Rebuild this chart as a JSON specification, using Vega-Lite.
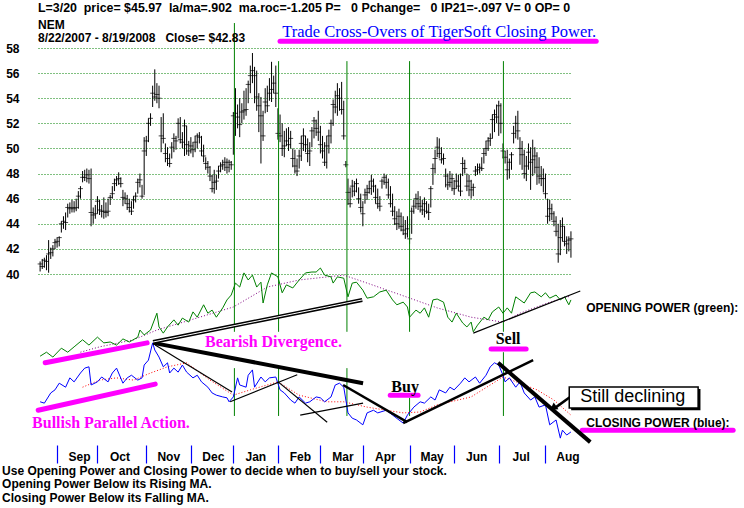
{
"$schema": "https://vega.github.io/schema/vega-lite/v6.json",
"width": 534, "height": 445,
"padding": {"left": 38, "top": 0, "right": 172, "bottom": 63},
"autosize": {"type": "none"},
"background": "white",
"config": {"view": {"stroke": null}, "axisX": {"grid": false, "title": null, "domain": false}},
"datasets": {
"bars": [
{"i":0,"h":41.0,"l":40.2,"c":40.8},{"i":1,"h":41.2,"l":40.4,"c":40.6},{"i":2,"h":41.3,"l":40.5,"c":41.1},{"i":3,"h":41.5,"l":40.3,"c":41.0},{"i":4,"h":42.7,"l":40.1,"c":41.6},{"i":5,"h":42.1,"l":41.2,"c":41.7},{"i":6,"h":42.3,"l":41.4,"c":42.0},{"i":7,"h":42.8,"l":42.0,"c":42.5},{"i":8,"h":42.9,"l":42.1,"c":42.6},{"i":9,"h":43.0,"l":42.2,"c":42.9},
{"i":10,"h":44.2,"l":43.3,"c":44.0},{"i":11,"h":44.6,"l":43.6,"c":44.2},{"i":12,"h":44.9,"l":43.5,"c":44.1},{"i":13,"h":45.6,"l":44.5,"c":45.3},{"i":14,"h":45.7,"l":44.8,"c":45.2},{"i":15,"h":45.9,"l":44.9,"c":45.3},{"i":16,"h":45.8,"l":44.9,"c":45.2},{"i":17,"h":46.0,"l":45.0,"c":45.3},{"i":18,"h":46.6,"l":45.2,"c":46.2},{"i":19,"h":47.0,"l":46.0,"c":46.8},
{"i":20,"h":48.2,"l":47.3,"c":47.7},{"i":21,"h":48.3,"l":47.4,"c":47.7},{"i":22,"h":48.4,"l":47.3,"c":47.9},{"i":23,"h":48.3,"l":47.2,"c":47.6},{"i":24,"h":48.4,"l":43.8,"c":44.9},{"i":25,"h":45.3,"l":44.0,"c":44.7},{"i":26,"h":45.5,"l":44.4,"c":44.8},{"i":27,"h":46.2,"l":44.8,"c":45.8},{"i":28,"h":45.9,"l":44.7,"c":45.1},{"i":29,"h":45.5,"l":44.5,"c":45.0},
{"i":30,"h":46.1,"l":44.4,"c":45.0},{"i":31,"h":45.7,"l":44.5,"c":44.9},{"i":32,"h":46.0,"l":44.6,"c":45.0},{"i":33,"h":46.3,"l":45.5,"c":46.1},{"i":34,"h":47.0,"l":46.0,"c":46.4},{"i":35,"h":47.6,"l":46.6,"c":47.2},{"i":36,"h":47.8,"l":47.0,"c":47.5},{"i":37,"h":48.1,"l":47.1,"c":47.6},{"i":38,"h":47.7,"l":46.9,"c":47.2},{"i":39,"h":46.7,"l":45.4,"c":46.1},
{"i":40,"h":46.5,"l":45.6,"c":46.0},{"i":41,"h":46.3,"l":45.1,"c":45.6},{"i":42,"h":46.0,"l":44.9,"c":45.3},{"i":43,"h":45.8,"l":44.7,"c":45.0},{"i":44,"h":46.2,"l":45.2,"c":45.9},{"i":45,"h":46.5,"l":45.7,"c":46.2},{"i":46,"h":47.6,"l":46.4,"c":47.3},{"i":47,"h":48.0,"l":46.9,"c":47.5},{"i":48,"h":47.1,"l":46.0,"c":46.2},{"i":49,"h":50.9,"l":46.3,"c":49.8},
{"i":50,"h":51.0,"l":49.4,"c":50.6},{"i":51,"h":52.4,"l":50.5,"c":52.0},{"i":52,"h":52.8,"l":51.8,"c":52.4},{"i":53,"h":55.0,"l":53.3,"c":54.4},{"i":54,"h":56.3,"l":53.8,"c":54.1},{"i":55,"h":55.2,"l":53.6,"c":54.3},{"i":56,"h":55.0,"l":53.2,"c":54.0},{"i":57,"h":52.5,"l":49.7,"c":51.0},{"i":58,"h":52.8,"l":50.4,"c":50.8},{"i":59,"h":50.4,"l":48.9,"c":49.6},
{"i":60,"h":50.1,"l":48.6,"c":49.2},{"i":61,"h":49.6,"l":48.5,"c":48.8},{"i":62,"h":50.5,"l":49.2,"c":50.1},{"i":63,"h":51.2,"l":49.7,"c":50.8},{"i":64,"h":51.0,"l":49.9,"c":50.6},{"i":65,"h":52.4,"l":50.8,"c":52.0},{"i":66,"h":52.5,"l":50.4,"c":50.7},{"i":67,"h":51.3,"l":50.0,"c":50.5},{"i":68,"h":52.3,"l":49.4,"c":51.8},{"i":69,"h":51.8,"l":49.5,"c":50.3},
{"i":70,"h":50.6,"l":49.4,"c":49.8},{"i":71,"h":50.9,"l":49.6,"c":50.2},{"i":72,"h":50.5,"l":49.3,"c":49.9},{"i":73,"h":51.0,"l":49.7,"c":50.5},{"i":74,"h":51.2,"l":50.0,"c":51.0},{"i":75,"h":51.3,"l":50.4,"c":50.9},{"i":76,"h":51.0,"l":49.4,"c":49.8},{"i":77,"h":50.3,"l":48.9,"c":49.4},{"i":78,"h":49.3,"l":48.3,"c":48.8},{"i":79,"h":49.0,"l":48.0,"c":48.5},
{"i":80,"h":48.6,"l":47.4,"c":47.8},{"i":81,"h":47.9,"l":46.5,"c":46.8},{"i":82,"h":48.3,"l":46.4,"c":47.3},{"i":83,"h":47.9,"l":46.7,"c":47.4},{"i":84,"h":48.6,"l":47.6,"c":48.2},{"i":85,"h":48.9,"l":48.1,"c":48.6},{"i":86,"h":49.1,"l":48.3,"c":48.7},{"i":87,"h":49.3,"l":48.2,"c":48.9},{"i":88,"h":49.2,"l":48.0,"c":48.5},{"i":89,"h":49.1,"l":48.1,"c":48.9},
{"i":90,"h":49.0,"l":48.3,"c":48.7},{"i":91,"h":52.9,"l":49.5,"c":52.6},{"i":92,"h":54.8,"l":51.0,"c":52.8},{"i":93,"h":53.5,"l":51.6,"c":52.5},{"i":94,"h":54.0,"l":50.9,"c":51.9},{"i":95,"h":53.6,"l":52.0,"c":52.9},{"i":96,"h":54.6,"l":52.3,"c":53.0},{"i":97,"h":54.8,"l":52.6,"c":53.1},{"i":98,"h":55.4,"l":53.6,"c":55.1},{"i":99,"h":56.6,"l":54.4,"c":55.8},
{"i":100,"h":57.6,"l":55.2,"c":56.2},{"i":101,"h":56.5,"l":53.6,"c":55.8},{"i":102,"h":56.2,"l":53.0,"c":54.1},{"i":103,"h":54.4,"l":51.3,"c":53.4},{"i":104,"h":54.1,"l":48.8,"c":52.6},{"i":105,"h":53.0,"l":50.6,"c":51.0},{"i":106,"h":54.8,"l":52.8,"c":53.7},{"i":107,"h":55.0,"l":52.9,"c":53.4},{"i":108,"h":55.6,"l":53.8,"c":54.4},{"i":109,"h":56.9,"l":53.7,"c":54.7},
{"i":110,"h":55.8,"l":54.4,"c":55.2},{"i":111,"h":56.6,"l":53.3,"c":54.4},{"i":112,"h":53.2,"l":50.7,"c":51.2},{"i":113,"h":52.7,"l":50.5,"c":51.0},{"i":114,"h":52.0,"l":49.4,"c":50.0},{"i":115,"h":51.4,"l":49.3,"c":50.2},{"i":116,"h":51.6,"l":50.2,"c":50.6},{"i":117,"h":51.7,"l":49.8,"c":50.3},{"i":118,"h":51.4,"l":50.0,"c":50.8},{"i":119,"h":50.0,"l":48.5,"c":49.2},
{"i":120,"h":49.9,"l":48.0,"c":48.6},{"i":121,"h":49.2,"l":47.8,"c":48.2},{"i":122,"h":49.9,"l":48.4,"c":49.4},{"i":123,"h":51.0,"l":49.0,"c":50.4},{"i":124,"h":51.6,"l":49.8,"c":51.0},{"i":125,"h":51.0,"l":49.7,"c":50.3},{"i":126,"h":50.8,"l":48.9,"c":49.6},{"i":127,"h":50.5,"l":48.6,"c":49.8},{"i":128,"h":51.7,"l":50.1,"c":51.4},{"i":129,"h":52.5,"l":50.8,"c":52.2},
{"i":130,"h":52.3,"l":51.0,"c":51.6},{"i":131,"h":53.0,"l":50.6,"c":51.3},{"i":132,"h":51.8,"l":49.6,"c":50.3},{"i":133,"h":51.0,"l":49.2,"c":49.8},{"i":134,"h":50.5,"l":48.6,"c":48.9},{"i":135,"h":51.0,"l":48.4,"c":50.2},{"i":136,"h":51.5,"l":49.6,"c":51.0},{"i":137,"h":52.3,"l":50.4,"c":52.0},{"i":138,"h":53.9,"l":51.8,"c":53.5},{"i":139,"h":54.6,"l":52.8,"c":53.3},
{"i":140,"h":55.2,"l":52.6,"c":54.2},{"i":141,"h":54.8,"l":53.0,"c":54.0},{"i":142,"h":55.3,"l":52.7,"c":53.1},{"i":143,"h":53.8,"l":50.7,"c":51.0},{"i":144,"h":49.0,"l":48.5,"c":48.7},{"i":145,"h":47.6,"l":45.5,"c":46.5},{"i":146,"h":46.9,"l":45.3,"c":45.6},{"i":147,"h":47.5,"l":46.1,"c":47.0},{"i":148,"h":47.4,"l":46.2,"c":46.6},{"i":149,"h":47.6,"l":46.5,"c":47.2},
{"i":150,"h":46.9,"l":45.6,"c":46.0},{"i":151,"h":46.4,"l":44.9,"c":45.3},{"i":152,"h":45.8,"l":43.8,"c":44.8},{"i":153,"h":46.8,"l":45.6,"c":46.3},{"i":154,"h":47.1,"l":45.9,"c":46.5},{"i":155,"h":47.4,"l":46.4,"c":46.8},{"i":156,"h":47.9,"l":46.3,"c":47.4},{"i":157,"h":47.6,"l":46.5,"c":47.0},{"i":158,"h":47.1,"l":45.6,"c":46.1},{"i":159,"h":46.8,"l":45.2,"c":45.6},
{"i":160,"h":46.2,"l":45.0,"c":45.4},{"i":161,"h":47.6,"l":46.8,"c":47.4},{"i":162,"h":48.0,"l":47.1,"c":47.7},{"i":163,"h":47.9,"l":46.8,"c":47.3},{"i":164,"h":47.6,"l":46.0,"c":46.3},{"i":165,"h":47.0,"l":45.3,"c":45.6},{"i":166,"h":46.4,"l":44.6,"c":45.0},{"i":167,"h":45.4,"l":43.9,"c":44.4},{"i":168,"h":45.0,"l":43.5,"c":44.0},{"i":169,"h":45.2,"l":43.6,"c":44.6},
{"i":170,"h":44.9,"l":43.4,"c":43.8},{"i":171,"h":44.6,"l":43.1,"c":43.5},{"i":172,"h":44.3,"l":42.8,"c":43.2},{"i":173,"h":44.6,"l":42.9,"c":43.6},{"i":174,"h":44.4,"l":42.4,"c":42.8},{"i":175,"h":45.3,"l":43.2,"c":45.0},{"i":176,"h":45.9,"l":44.8,"c":45.4},{"i":177,"h":46.4,"l":45.2,"c":46.0},{"i":178,"h":46.6,"l":45.1,"c":45.6},{"i":179,"h":46.2,"l":44.9,"c":45.4},
{"i":180,"h":45.9,"l":44.7,"c":45.1},{"i":181,"h":46.1,"l":44.5,"c":45.6},{"i":182,"h":45.8,"l":44.8,"c":45.0},{"i":183,"h":45.6,"l":44.3,"c":44.9},{"i":184,"h":47.0,"l":45.3,"c":46.8},{"i":185,"h":48.8,"l":47.1,"c":48.4},{"i":186,"h":49.9,"l":48.0,"c":49.2},{"i":187,"h":50.9,"l":49.3,"c":50.1},{"i":188,"h":50.8,"l":49.2,"c":49.6},{"i":189,"h":50.1,"l":48.8,"c":49.1},
{"i":190,"h":49.6,"l":48.7,"c":49.2},{"i":191,"h":48.4,"l":46.9,"c":47.8},{"i":192,"h":48.0,"l":46.7,"c":47.1},{"i":193,"h":48.2,"l":46.9,"c":47.3},{"i":194,"h":48.0,"l":46.6,"c":47.6},{"i":195,"h":47.5,"l":46.3,"c":46.8},{"i":196,"h":48.0,"l":46.8,"c":47.4},{"i":197,"h":47.9,"l":46.6,"c":47.0},{"i":198,"h":48.0,"l":46.2,"c":46.6},{"i":199,"h":49.3,"l":47.8,"c":48.8},
{"i":200,"h":49.1,"l":48.0,"c":48.4},{"i":201,"h":48.0,"l":46.6,"c":47.0},{"i":202,"h":47.9,"l":46.2,"c":47.4},{"i":203,"h":47.5,"l":46.0,"c":46.7},{"i":204,"h":47.2,"l":46.2,"c":46.9},{"i":205,"h":48.6,"l":47.8,"c":48.2},{"i":206,"h":48.8,"l":47.9,"c":48.3},{"i":207,"h":48.8,"l":48.0,"c":48.5},{"i":208,"h":49.3,"l":48.2,"c":48.4},{"i":209,"h":50.0,"l":48.8,"c":49.6},
{"i":210,"h":50.6,"l":49.4,"c":50.0},{"i":211,"h":50.9,"l":49.8,"c":50.6},{"i":212,"h":51.2,"l":50.2,"c":50.8},{"i":213,"h":52.7,"l":50.8,"c":52.3},{"i":214,"h":53.1,"l":51.3,"c":52.7},{"i":215,"h":53.5,"l":52.0,"c":52.5},{"i":216,"h":53.8,"l":51.0,"c":53.4},{"i":217,"h":53.6,"l":51.2,"c":52.0},{"i":218,"h":50.4,"l":49.2,"c":49.8},{"i":219,"h":49.8,"l":48.8,"c":49.3},
{"i":220,"h":49.9,"l":47.5,"c":48.3},{"i":221,"h":49.2,"l":47.6,"c":48.9},{"i":222,"h":49.7,"l":48.3,"c":49.5},{"i":223,"h":51.8,"l":50.4,"c":51.2},{"i":224,"h":52.6,"l":50.8,"c":52.0},{"i":225,"h":53.0,"l":50.7,"c":51.4},{"i":226,"h":50.9,"l":48.7,"c":50.0},{"i":227,"h":50.6,"l":48.3,"c":49.5},{"i":228,"h":49.9,"l":47.6,"c":48.0},{"i":229,"h":49.4,"l":47.4,"c":48.6},
{"i":230,"h":50.4,"l":48.3,"c":49.7},{"i":231,"h":50.1,"l":46.7,"c":48.9},{"i":232,"h":50.7,"l":47.8,"c":49.1},{"i":233,"h":50.1,"l":48.0,"c":49.4},{"i":234,"h":49.7,"l":47.1,"c":48.5},{"i":235,"h":49.3,"l":47.2,"c":47.8},{"i":236,"h":48.6,"l":47.0,"c":47.6},{"i":237,"h":48.4,"l":46.5,"c":47.6},{"i":238,"h":48.0,"l":46.0,"c":46.4},{"i":239,"h":46.0,"l":44.0,"c":44.6},
{"i":240,"h":45.9,"l":44.2,"c":45.2},{"i":241,"h":45.6,"l":44.3,"c":44.8},{"i":242,"h":45.0,"l":43.8,"c":44.2},{"i":243,"h":44.6,"l":43.0,"c":43.4},{"i":244,"h":44.0,"l":40.9,"c":41.6},{"i":245,"h":44.3,"l":41.5,"c":42.9},{"i":246,"h":44.5,"l":42.6,"c":43.8},{"i":247,"h":43.8,"l":42.2,"c":42.6},{"i":248,"h":43.0,"l":41.6,"c":42.4},{"i":249,"h":43.0,"l":41.8,"c":42.7},
{"i":250,"h":43.4,"l":41.3,"c":42.8}
],
"op": [
{"i":0,"v":19.6},{"i":3,"v":20.5},{"i":6,"v":19.4},{"i":10,"v":21.4},{"i":13,"v":20.5},{"i":16,"v":21.7},{"i":20,"v":23.3},{"i":23,"v":22.1},{"i":27,"v":23.9},{"i":30,"v":22.6},{"i":33,"v":22.8},{"i":36,"v":22.1},{"i":39,"v":23.5},{"i":42,"v":22.8},{"i":46,"v":23.9},{"i":47,"v":25.5},{"i":49,"v":24.4},{"i":52,"v":25.5},{"i":55,"v":29.3},{"i":56,"v":26.2},{"i":58,"v":24.8},{"i":60,"v":26.2},{"i":63,"v":27.8},{"i":65,"v":26.6},{"i":67,"v":28.2},{"i":70,"v":27.3},{"i":72,"v":29.6},{"i":74,"v":28.4},{"i":77,"v":31.2},{"i":79,"v":29.3},{"i":81,"v":30.0},{"i":83,"v":28.4},{"i":86,"v":30.5},{"i":88,"v":32.3},{"i":90,"v":33.4},{"i":92,"v":36.1},{"i":94,"v":35.2},{"i":96,"v":38.4},{"i":98,"v":36.8},{"i":100,"v":37.9},{"i":102,"v":35.2},{"i":104,"v":36.3},{"i":105,"v":31.6},{"i":107,"v":35.7},{"i":109,"v":38.4},{"i":112,"v":37.5},{"i":114,"v":33.9},{"i":116,"v":35.7},{"i":119,"v":35.0},{"i":122,"v":36.8},{"i":125,"v":38.4},{"i":128,"v":38.6},{"i":130,"v":38.6},{"i":132,"v":39.5},{"i":134,"v":37.9},{"i":137,"v":37.5},{"i":138,"v":36.1},{"i":140,"v":37.5},{"i":143,"v":37.2},{"i":145,"v":33.0},{"i":147,"v":36.1},{"i":149,"v":36.3},{"i":152,"v":34.5},{"i":154,"v":32.7},{"i":157,"v":33.0},{"i":160,"v":34.1},{"i":163,"v":34.5},{"i":166,"v":32.3},{"i":168,"v":31.2},{"i":171,"v":31.8},{"i":173,"v":30.7},{"i":174,"v":28.4},{"i":177,"v":30.0},{"i":179,"v":29.3},{"i":181,"v":30.5},{"i":183,"v":28.4},{"i":185,"v":32.3},{"i":187,"v":32.5},{"i":190,"v":31.8},{"i":192,"v":28.4},{"i":194,"v":27.3},{"i":196,"v":29.3},{"i":199,"v":27.1},{"i":201,"v":26.2},{"i":203,"v":27.3},{"i":204,"v":25.1},{"i":206,"v":26.6},{"i":209,"v":28.4},{"i":211,"v":27.8},{"i":213,"v":29.6},{"i":216,"v":30.7},{"i":218,"v":29.3},{"i":220,"v":30.5},{"i":222,"v":29.3},{"i":224,"v":33.0},{"i":226,"v":32.3},{"i":228,"v":31.6},{"i":231,"v":33.9},{"i":233,"v":34.1},{"i":236,"v":33.0},{"i":238,"v":33.9},{"i":240,"v":32.7},{"i":243,"v":33.4},{"i":245,"v":32.3},{"i":247,"v":33.0},{"i":249,"v":31.2},{"i":250,"v":32.3}
],
"opma": [
{"i":19,"v":20.5},{"i":28,"v":21.7},{"i":44,"v":23.3},{"i":55,"v":25.5},{"i":71,"v":27.8},{"i":91,"v":30.7},{"i":107,"v":35.2},{"i":122,"v":36.8},{"i":143,"v":37.9},{"i":154,"v":36.1},{"i":170,"v":33.4},{"i":187,"v":30.5},{"i":203,"v":28.4},{"i":211,"v":27.8},{"i":218,"v":27.3},{"i":226,"v":29.3},{"i":239,"v":31.6},{"i":250,"v":33.2}
],
"cp": [
{"i":0,"v":9.3},{"i":2,"v":9.0},{"i":5,"v":11.3},{"i":7,"v":12.0},{"i":9,"v":13.5},{"i":12,"v":12.6},{"i":14,"v":14.7},{"i":16,"v":13.8},{"i":19,"v":15.8},{"i":21,"v":16.9},{"i":23,"v":17.2},{"i":24,"v":13.1},{"i":27,"v":13.8},{"i":29,"v":14.9},{"i":32,"v":13.8},{"i":34,"v":15.8},{"i":36,"v":16.9},{"i":39,"v":13.5},{"i":41,"v":14.7},{"i":43,"v":15.3},{"i":46,"v":14.2},{"i":48,"v":14.7},{"i":49,"v":17.6},{"i":51,"v":18.7},{"i":53,"v":22.6},{"i":54,"v":21.0},{"i":56,"v":19.4},{"i":58,"v":17.2},{"i":60,"v":18.1},{"i":61,"v":15.8},{"i":63,"v":16.9},{"i":65,"v":16.0},{"i":67,"v":17.6},{"i":69,"v":16.0},{"i":72,"v":14.7},{"i":74,"v":15.3},{"i":76,"v":13.8},{"i":79,"v":12.6},{"i":81,"v":11.3},{"i":83,"v":10.8},{"i":86,"v":10.4},{"i":88,"v":10.2},{"i":89,"v":9.3},{"i":91,"v":10.4},{"i":93,"v":14.7},{"i":94,"v":13.1},{"i":97,"v":12.6},{"i":98,"v":15.3},{"i":100,"v":16.5},{"i":101,"v":12.6},{"i":104,"v":14.9},{"i":106,"v":13.8},{"i":108,"v":14.7},{"i":111,"v":14.9},{"i":113,"v":12.0},{"i":115,"v":11.3},{"i":118,"v":9.7},{"i":120,"v":9.0},{"i":122,"v":10.4},{"i":125,"v":9.0},{"i":127,"v":9.3},{"i":130,"v":10.4},{"i":132,"v":10.2},{"i":134,"v":9.3},{"i":137,"v":10.4},{"i":139,"v":13.1},{"i":141,"v":13.5},{"i":143,"v":12.6},{"i":145,"v":6.8},{"i":147,"v":5.6},{"i":149,"v":5.2},{"i":152,"v":4.1},{"i":154,"v":6.8},{"i":157,"v":7.4},{"i":159,"v":6.8},{"i":163,"v":7.4},{"i":166,"v":6.3},{"i":169,"v":5.2},{"i":171,"v":4.5},{"i":173,"v":6.3},{"i":176,"v":8.1},{"i":179,"v":9.3},{"i":181,"v":9.0},{"i":184,"v":10.4},{"i":186,"v":9.7},{"i":188,"v":12.0},{"i":191,"v":11.3},{"i":193,"v":12.6},{"i":195,"v":12.0},{"i":198,"v":13.5},{"i":200,"v":14.7},{"i":202,"v":13.8},{"i":205,"v":14.9},{"i":207,"v":13.5},{"i":210,"v":15.3},{"i":212,"v":17.2},{"i":214,"v":18.1},{"i":216,"v":17.6},{"i":218,"v":15.3},{"i":219,"v":13.8},{"i":221,"v":14.7},{"i":224,"v":12.6},{"i":226,"v":13.8},{"i":228,"v":11.3},{"i":231,"v":9.7},{"i":233,"v":10.4},{"i":235,"v":8.1},{"i":238,"v":8.6},{"i":240,"v":4.1},{"i":243,"v":5.2},{"i":245,"v":1.1},{"i":246,"v":2.9},{"i":248,"v":1.8},{"i":250,"v":2.5}
],
"cpma": [
{"i":20,"v":12.6},{"i":28,"v":14.2},{"i":36,"v":14.7},{"i":44,"v":14.2},{"i":52,"v":15.8},{"i":60,"v":17.2},{"i":69,"v":18.1},{"i":80,"v":14.2},{"i":91,"v":10.8},{"i":99,"v":12.0},{"i":112,"v":13.8},{"i":122,"v":10.8},{"i":135,"v":9.3},{"i":143,"v":9.3},{"i":154,"v":8.1},{"i":163,"v":7.4},{"i":171,"v":6.8},{"i":179,"v":7.0},{"i":187,"v":8.6},{"i":203,"v":10.4},{"i":218,"v":14.9},{"i":226,"v":13.5},{"i":234,"v":12.0},{"i":242,"v":9.7},{"i":250,"v":6.3}
],
"vlines": [
{"i":91.5,"v1":94.8,"v2":25.1},{"i":91.5,"v1":16.9,"v2":6.1},
{"i":112.3,"v1":86.2,"v2":25.1},{"i":112.3,"v1":16.9,"v2":6.1},
{"i":144.5,"v1":86.2,"v2":25.1},{"i":144.5,"v1":16.9,"v2":6.1},
{"i":174,"v1":86.2,"v2":25.1},{"i":174,"v1":10.2,"v2":6.1},
{"i":218.2,"v1":86.2,"v2":25.1},{"i":218.2,"v1":20.5,"v2":6.1}
],
"magenta": [
{"s":"m1","i":2.4,"v":18.1},{"s":"m1","i":50.4,"v":22.6},
{"s":"m2","i":-0.9,"v":7.4},{"s":"m2","i":54.2,"v":13.3},
{"s":"title","i":113.0,"v":90.7},{"s":"title","i":261.9,"v":90.7},
{"s":"buy","i":164.9,"v":10.8},{"s":"buy","i":178.0,"v":10.8},
{"s":"sell","i":212.4,"v":21.2},{"s":"sell","i":228.9,"v":21.2},
{"s":"cp","i":255.3,"v":2.9},{"s":"cp","i":326.4,"v":2.9}
],
"thick": [
{"s":"div1","i":53.2,"v":22.8},{"s":"div1","i":151.7,"v":32.3},
{"s":"div2","i":53.2,"v":22.6},{"s":"div2","i":152.1,"v":13.5},
{"s":"down","i":215.7,"v":18.1},{"s":"down","i":259.1,"v":0.2}
],
"medium": [
{"s":"a","i":142.7,"v":13.1},{"s":"a","i":172.9,"v":4.7},
{"s":"b","i":171.0,"v":4.5},{"s":"b","i":232.2,"v":18.7},
{"s":"arrow","i":249.6,"v":10.4},{"s":"arrow","i":243.0,"v":8.1}
],
"thin": [
{"s":"t1","i":54.2,"v":22.1},{"s":"t1","i":90.4,"v":11.5},
{"s":"t2","i":89.5,"v":9.3},{"s":"t2","i":121.1,"v":15.4},
{"s":"t3","i":112.1,"v":13.8},{"s":"t3","i":135.2,"v":4.7},
{"s":"t4","i":122.5,"v":6.3},{"s":"t4","i":152.1,"v":9.0},
{"s":"op","i":204.0,"v":24.8},{"s":"op","i":254.4,"v":34.3}
]
},
"layer": [
 {"data": {"name": "bars"}, "mark": {"type": "rule", "color": "#000000", "strokeWidth": 1},
  "encoding": {
   "x": {"field": "i", "type": "quantitative", "scale": {"domain": [-1, 250.5], "nice": false, "zero": false},
     "axis": {"values": [8,27,50,71,91,112,132,152,174,195,216,238], "labelExpr": "datum.value == 8 ? 'Sep' : datum.value == 27 ? 'Oct' : datum.value == 50 ? 'Nov' : datum.value == 71 ? 'Dec' : datum.value == 91 ? 'Jan' : datum.value == 112 ? 'Feb' : datum.value == 132 ? 'Mar' : datum.value == 152 ? 'Apr' : datum.value == 174 ? 'May' : datum.value == 195 ? 'Jun' : datum.value == 216 ? 'Jul' : 'Aug'", "domain": false, "grid": false, "ticks": true, "tickColor": "#0000ff", "tickSize": 18, "tickWidth": 1.2, "labelOffset": 22, "labelPadding": -7, "labelBaseline": "middle", "labelFont": "Liberation Sans", "labelFontWeight": "bold", "labelFontSize": 12, "labelColor": "#000000", "title": null, "labelFlush": false, "labelOverlap": false}},
   "y": {"field": "l", "type": "quantitative", "scale": {"domain": [26.381, 61.823], "nice": false, "zero": false},
     "axis": {"values": [40,42,44,46,48,50,52,54,56,58], "grid": true, "gridColor": "#008000", "gridDash": [1,2], "gridWidth": 1, "domain": false, "ticks": false, "labelPadding": 19, "labelFont": "Liberation Sans", "labelFontWeight": "bold", "labelFontSize": 12, "labelColor": "#000000", "title": null}},
   "y2": {"field": "h"}
  }},
 {"data": {"name": "bars"}, "mark": {"type": "tick", "orient": "horizontal", "size": 5, "thickness": 1, "color": "#000000"},
  "encoding": {
   "x": {"field": "i", "type": "quantitative", "scale": {"domain": [-1, 250.5], "nice": false, "zero": false}},
   "y": {"field": "c", "type": "quantitative", "scale": {"domain": [26.381, 61.823], "nice": false, "zero": false}, "axis": null}
  }},
 {"data": {"name": "vlines"}, "mark": {"type": "rule", "color": "#008000", "strokeWidth": 1},
  "encoding": {"x": {"field": "i", "type": "quantitative", "scale": {"domain": [-1, 250.5], "nice": false, "zero": false}},
   "y": {"field": "v1", "type": "quantitative", "scale": {"domain": [-0.45, 100], "nice": false, "zero": false}, "axis": null}, "y2": {"field": "v2"}}},
 {"data": {"name": "opma"}, "mark": {"type": "line", "color": "#800080", "strokeWidth": 1, "strokeDash": [1,2]},
  "encoding": {"x": {"field": "i", "type": "quantitative", "scale": {"domain": [-1, 250.5], "nice": false, "zero": false}},
   "y": {"field": "v", "type": "quantitative", "scale": {"domain": [-0.45, 100], "nice": false, "zero": false}, "axis": null}}},
 {"data": {"name": "op"}, "mark": {"type": "line", "color": "#008000", "strokeWidth": 1},
  "encoding": {"x": {"field": "i", "type": "quantitative", "scale": {"domain": [-1, 250.5], "nice": false, "zero": false}},
   "y": {"field": "v", "type": "quantitative", "scale": {"domain": [-0.45, 100], "nice": false, "zero": false}, "axis": null}}},
 {"data": {"name": "cpma"}, "mark": {"type": "line", "color": "#ff0000", "strokeWidth": 1, "strokeDash": [1,2]},
  "encoding": {"x": {"field": "i", "type": "quantitative", "scale": {"domain": [-1, 250.5], "nice": false, "zero": false}},
   "y": {"field": "v", "type": "quantitative", "scale": {"domain": [-0.45, 100], "nice": false, "zero": false}, "axis": null}}},
 {"data": {"name": "cp"}, "mark": {"type": "line", "color": "#0000ff", "strokeWidth": 1},
  "encoding": {"x": {"field": "i", "type": "quantitative", "scale": {"domain": [-1, 250.5], "nice": false, "zero": false}},
   "y": {"field": "v", "type": "quantitative", "scale": {"domain": [-0.45, 100], "nice": false, "zero": false}, "axis": null}}},
 {"data": {"name": "magenta"}, "mark": {"type": "line", "color": "#ff00ff", "strokeWidth": 5, "strokeCap": "round"},
  "encoding": {"x": {"field": "i", "type": "quantitative", "scale": {"domain": [-1, 250.5], "nice": false, "zero": false}},
   "y": {"field": "v", "type": "quantitative", "scale": {"domain": [-0.45, 100], "nice": false, "zero": false}, "axis": null}, "detail": {"field": "s"}}},
 {"data": {"name": "thin"}, "mark": {"type": "line", "color": "#000000", "strokeWidth": 1.2},
  "encoding": {"x": {"field": "i", "type": "quantitative", "scale": {"domain": [-1, 250.5], "nice": false, "zero": false}},
   "y": {"field": "v", "type": "quantitative", "scale": {"domain": [-0.45, 100], "nice": false, "zero": false}, "axis": null}, "detail": {"field": "s"}}},
 {"data": {"name": "thick"}, "mark": {"type": "line", "color": "#000000", "strokeWidth": 4},
  "encoding": {"x": {"field": "i", "type": "quantitative", "scale": {"domain": [-1, 250.5], "nice": false, "zero": false}},
   "y": {"field": "v", "type": "quantitative", "scale": {"domain": [-0.45, 100], "nice": false, "zero": false}, "axis": null}, "detail": {"field": "s"}}},
 {"data": {"name": "thick"}, "transform": [{"filter": "datum.s == 'div1'"}], "mark": {"type": "line", "color": "#ffffff", "strokeWidth": 1},
  "encoding": {"x": {"field": "i", "type": "quantitative", "scale": {"domain": [-1, 250.5], "nice": false, "zero": false}},
   "y": {"field": "v", "type": "quantitative", "scale": {"domain": [-0.45, 100], "nice": false, "zero": false}, "axis": null}}},
 {"data": {"name": "medium"}, "mark": {"type": "line", "color": "#000000", "strokeWidth": 2.5},
  "encoding": {"x": {"field": "i", "type": "quantitative", "scale": {"domain": [-1, 250.5], "nice": false, "zero": false}},
   "y": {"field": "v", "type": "quantitative", "scale": {"domain": [-0.45, 100], "nice": false, "zero": false}, "axis": null}, "detail": {"field": "s"}}},
 {"data": {"values": [{}]}, "mark": {"type": "point", "shape": "triangle-up", "angle": 235, "size": 70, "filled": true, "color": "#000000", "opacity": 1},
  "encoding": {"x": {"datum": 241.6, "type": "quantitative", "scale": {"domain": [-1, 250.5], "nice": false, "zero": false}},
   "y": {"datum": 7.9, "type": "quantitative", "scale": {"domain": [-0.45, 100], "nice": false, "zero": false}, "axis": null}}},
 {"data": {"values": [{}]}, "mark": {"type": "rect", "color": "#000000"},
  "encoding": {"x": {"datum": 250.1, "type": "quantitative", "scale": {"domain": [-1, 250.5], "nice": false, "zero": false}}, "x2": {"datum": 311.0},
   "y": {"datum": 12.2, "type": "quantitative", "scale": {"domain": [-0.45, 100], "nice": false, "zero": false}, "axis": null}, "y2": {"datum": 7.4}}},
 {"data": {"values": [{}]}, "mark": {"type": "rect", "fill": "#ffffff", "stroke": "#000000", "strokeWidth": 1.5},
  "encoding": {"x": {"datum": 249.2, "type": "quantitative", "scale": {"domain": [-1, 250.5], "nice": false, "zero": false}}, "x2": {"datum": 309.9},
   "y": {"datum": 12.64, "type": "quantitative", "scale": {"domain": [-0.45, 100], "nice": false, "zero": false}, "axis": null}, "y2": {"datum": 7.9}}},
 {"data": {"values": [{}]}, "mark": {"type": "text", "align": "left", "baseline": "middle", "font": "Liberation Sans", "fontWeight": "bold", "fontSize": 12.4, "color": "#000000", "text": "L=3/20\u00a0 price= $45.97\u00a0 la/ma=.902\u00a0 ma.roc=-1.205 P=\u00a0\u00a0 0 Pchange=\u00a0\u00a0 0 IP21=-.097 V= 0 OP= 0"},
  "encoding": {"x": {"datum": -1, "type": "quantitative", "scale": {"domain": [-1, 250.5], "nice": false, "zero": false}},
   "y": {"datum": 98.3, "type": "quantitative", "scale": {"domain": [-0.45, 100], "nice": false, "zero": false}, "axis": null}}},
 {"data": {"values": [{}]}, "mark": {"type": "text", "align": "left", "baseline": "middle", "font": "Liberation Sans", "fontWeight": "bold", "fontSize": 12, "color": "#000000", "text": "NEM"},
  "encoding": {"x": {"datum": -1, "type": "quantitative", "scale": {"domain": [-1, 250.5], "nice": false, "zero": false}},
   "y": {"datum": 94.4, "type": "quantitative", "scale": {"domain": [-0.45, 100], "nice": false, "zero": false}, "axis": null}}},
 {"data": {"values": [{}]}, "mark": {"type": "text", "align": "left", "baseline": "middle", "font": "Liberation Sans", "fontWeight": "bold", "fontSize": 12, "color": "#000000", "text": "8/22/2007 - 8/19/2008\u00a0\u00a0 Close= $42.83"},
  "encoding": {"x": {"datum": -1, "type": "quantitative", "scale": {"domain": [-1, 250.5], "nice": false, "zero": false}},
   "y": {"datum": 91.4, "type": "quantitative", "scale": {"domain": [-0.45, 100], "nice": false, "zero": false}, "axis": null}}},
 {"data": {"values": [{}]}, "mark": {"type": "text", "align": "left", "baseline": "middle", "font": "Liberation Serif", "fontSize": 16.5, "color": "#0000ff", "text": "Trade Cross-Overs of TigerSoft Closing Power."},
  "encoding": {"x": {"datum": 114.0, "type": "quantitative", "scale": {"domain": [-1, 250.5], "nice": false, "zero": false}},
   "y": {"datum": 92.8, "type": "quantitative", "scale": {"domain": [-0.45, 100], "nice": false, "zero": false}, "axis": null}}},
 {"data": {"values": [{}]}, "mark": {"type": "text", "align": "left", "baseline": "middle", "font": "Liberation Serif", "fontWeight": "bold", "fontSize": 16, "color": "#ff00ff", "text": "Bearish Divergence."},
  "encoding": {"x": {"datum": 77.7, "type": "quantitative", "scale": {"domain": [-1, 250.5], "nice": false, "zero": false}},
   "y": {"datum": 22.8, "type": "quantitative", "scale": {"domain": [-0.45, 100], "nice": false, "zero": false}, "axis": null}}},
 {"data": {"values": [{}]}, "mark": {"type": "text", "align": "left", "baseline": "middle", "font": "Liberation Serif", "fontWeight": "bold", "fontSize": 16, "color": "#ff00ff", "text": "Bullish Parallel Action."},
  "encoding": {"x": {"datum": -3.8, "type": "quantitative", "scale": {"domain": [-1, 250.5], "nice": false, "zero": false}},
   "y": {"datum": 4.5, "type": "quantitative", "scale": {"domain": [-0.45, 100], "nice": false, "zero": false}, "axis": null}}},
 {"data": {"values": [{}]}, "mark": {"type": "text", "align": "center", "baseline": "middle", "font": "Liberation Serif", "fontWeight": "bold", "fontSize": 16, "color": "#000000", "text": "Buy"},
  "encoding": {"x": {"datum": 171.9, "type": "quantitative", "scale": {"domain": [-1, 250.5], "nice": false, "zero": false}},
   "y": {"datum": 12.6, "type": "quantitative", "scale": {"domain": [-0.45, 100], "nice": false, "zero": false}, "axis": null}}},
 {"data": {"values": [{}]}, "mark": {"type": "text", "align": "center", "baseline": "middle", "font": "Liberation Serif", "fontWeight": "bold", "fontSize": 16, "color": "#000000", "text": "Sell"},
  "encoding": {"x": {"datum": 220.4, "type": "quantitative", "scale": {"domain": [-1, 250.5], "nice": false, "zero": false}},
   "y": {"datum": 23.5, "type": "quantitative", "scale": {"domain": [-0.45, 100], "nice": false, "zero": false}, "axis": null}}},
 {"data": {"values": [{}]}, "mark": {"type": "text", "align": "left", "baseline": "middle", "font": "Liberation Sans", "fontWeight": "bold", "fontSize": 12, "color": "#000000", "text": "OPENING POWER (green):"},
  "encoding": {"x": {"datum": 257.2, "type": "quantitative", "scale": {"domain": [-1, 250.5], "nice": false, "zero": false}},
   "y": {"datum": 30.5, "type": "quantitative", "scale": {"domain": [-0.45, 100], "nice": false, "zero": false}, "axis": null}}},
 {"data": {"values": [{}]}, "mark": {"type": "text", "align": "left", "baseline": "middle", "font": "Liberation Sans", "fontWeight": "bold", "fontSize": 12, "color": "#000000", "text": "CLOSING POWER (blue):"},
  "encoding": {"x": {"datum": 257.2, "type": "quantitative", "scale": {"domain": [-1, 250.5], "nice": false, "zero": false}},
   "y": {"datum": 4.5, "type": "quantitative", "scale": {"domain": [-0.45, 100], "nice": false, "zero": false}, "axis": null}}},
 {"data": {"values": [{}]}, "mark": {"type": "text", "align": "left", "baseline": "middle", "font": "Liberation Sans", "fontSize": 18, "color": "#000000", "text": "Still declining"},
  "encoding": {"x": {"datum": 254.4, "type": "quantitative", "scale": {"domain": [-1, 250.5], "nice": false, "zero": false}},
   "y": {"datum": 10.4, "type": "quantitative", "scale": {"domain": [-0.45, 100], "nice": false, "zero": false}, "axis": null}}},
 {"data": {"values": [{}]}, "mark": {"type": "text", "align": "left", "baseline": "middle", "font": "Liberation Sans", "fontWeight": "bold", "fontSize": 12, "color": "#000000", "text": "Use Opening Power and Closing Power to decide when to buy/sell your stock."},
  "encoding": {"x": {"datum": -17.9, "type": "quantitative", "scale": {"domain": [-1, 250.5], "nice": false, "zero": false}},
   "y": {"datum": -6.25, "type": "quantitative", "scale": {"domain": [-0.45, 100], "nice": false, "zero": false}, "axis": null}}},
 {"data": {"values": [{}]}, "mark": {"type": "text", "align": "left", "baseline": "middle", "font": "Liberation Sans", "fontWeight": "bold", "fontSize": 12, "color": "#000000", "text": "Opening Power Below its Rising MA."},
  "encoding": {"x": {"datum": -17.9, "type": "quantitative", "scale": {"domain": [-1, 250.5], "nice": false, "zero": false}},
   "y": {"datum": -9.25, "type": "quantitative", "scale": {"domain": [-0.45, 100], "nice": false, "zero": false}, "axis": null}}},
 {"data": {"values": [{}]}, "mark": {"type": "text", "align": "left", "baseline": "middle", "font": "Liberation Sans", "fontWeight": "bold", "fontSize": 12, "color": "#000000", "text": "Closing Power Below its Falling MA."},
  "encoding": {"x": {"datum": -17.9, "type": "quantitative", "scale": {"domain": [-1, 250.5], "nice": false, "zero": false}},
   "y": {"datum": -12.5, "type": "quantitative", "scale": {"domain": [-0.45, 100], "nice": false, "zero": false}, "axis": null}}}
],
"resolve": {"scale": {"y": "independent"}}
}
